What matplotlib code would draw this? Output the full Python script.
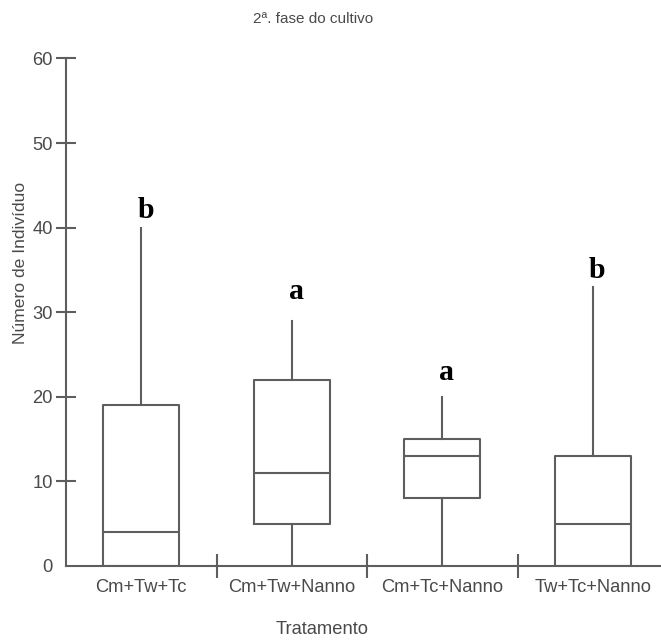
import matplotlib
matplotlib.use("Agg")
import matplotlib.pyplot as plt
from matplotlib.ticker import FixedLocator, NullFormatter

# ---- data ----
categories = ["Cm+Tw+Tc", "Cm+Tw+Nanno", "Cm+Tc+Nanno", "Tw+Tc+Nanno"]
whisker_low = [0, 0, 0, 0]
q1 = [0, 5, 8, 0]
median = [4, 11, 13, 5]
q3 = [19, 22, 15, 13]
whisker_high = [40, 29, 20, 33]
letters = ["b", "a", "a", "b"]
yticks = [0, 10, 20, 30, 40, 50, 60]

title = "2ª. fase do cultivo"
xlabel = "Tratamento"
ylabel = "Número de Indivíduo"

# ---- style ----
W, H, DPI = 661, 640, 100
line_col = "#5e5e5e"
text_col = "#4a4a4a"
sans = ["Liberation Sans", "DejaVu Sans"]
serif = ["Liberation Serif", "DejaVu Serif"]
fs = 13.2

fig = plt.figure(figsize=(W / DPI, H / DPI), dpi=DPI)
fig.patch.set_facecolor("white")

# axes in pixel geometry
x0, x1 = 66, 668
y0, y1 = 566, 58.5
ax = fig.add_axes([x0 / W, 1 - y0 / H, (x1 - x0) / W, (y0 - y1) / H])
ax.set_facecolor("white")

stats = []
for i, name in enumerate(categories):
    stats.append(dict(label=name, whislo=whisker_low[i], q1=q1[i], med=median[i],
                      q3=q3[i], whishi=whisker_high[i], fliers=[]))

positions = list(range(1, len(categories) + 1))
lw = 1.5
ax.bxp(stats, positions=positions, widths=0.505, showcaps=False, showfliers=False,
       boxprops=dict(color=line_col, linewidth=lw),
       whiskerprops=dict(color=line_col, linewidth=lw),
       medianprops=dict(color=line_col, linewidth=lw),
       manage_ticks=False)

ax.set_xlim(0.5, len(categories) + 0.5)
ax.set_ylim(0, 60)
for s in ["top", "right"]:
    ax.spines[s].set_visible(False)
for s in ["left", "bottom"]:
    ax.spines[s].set_color(line_col)
    ax.spines[s].set_linewidth(lw)

# y ticks
ax.set_yticks(yticks)
ax.set_yticklabels([str(v) for v in yticks])
ax.tick_params(axis="y", direction="inout", length=15, width=lw, color=line_col,
               pad=2, labelsize=fs, labelcolor=text_col)
for lab in ax.get_yticklabels():
    lab.set_family(sans)
ax.yaxis.get_major_ticks()[0].tick1line.set_visible(False)

# x ticks: separators as major, labels as minor
ax.xaxis.set_major_locator(FixedLocator([p + 0.5 for p in positions[:-1]]))
ax.xaxis.set_major_formatter(NullFormatter())
ax.xaxis.set_minor_locator(FixedLocator(positions))
ax.set_xticklabels(categories, minor=True)
ax.tick_params(axis="x", which="major", direction="inout", length=17, width=lw,
               color=line_col)
ax.tick_params(axis="x", which="minor", length=0, pad=9.5, labelsize=fs,
               labelcolor=text_col)
for lab in ax.get_xticklabels(minor=True):
    lab.set_family(sans)

# significance letters
letter_off = [1.2, 2.6, 2.0, 1.1]
for p, hi, let, off in zip(positions, whisker_high, letters, letter_off):
    ax.text(p + 0.03, hi + off, let, ha="center", va="baseline",
            fontsize=21.5, fontweight="bold", family=serif, color="black")

# texts
fig.text(313 / W, 1 - 19 / H, title, ha="center", va="center",
         fontsize=11, color=text_col, family=sans)
fig.text(322 / W, 1 - 630 / H, xlabel, ha="center", va="center",
         fontsize=fs, color=text_col, family=sans)
fig.text(21 / W, 1 - 263 / H, ylabel, ha="center", va="center", rotation=90,
         fontsize=12.6, color=text_col, family=sans)

fig.savefig("out.png", dpi=DPI, facecolor="white")
